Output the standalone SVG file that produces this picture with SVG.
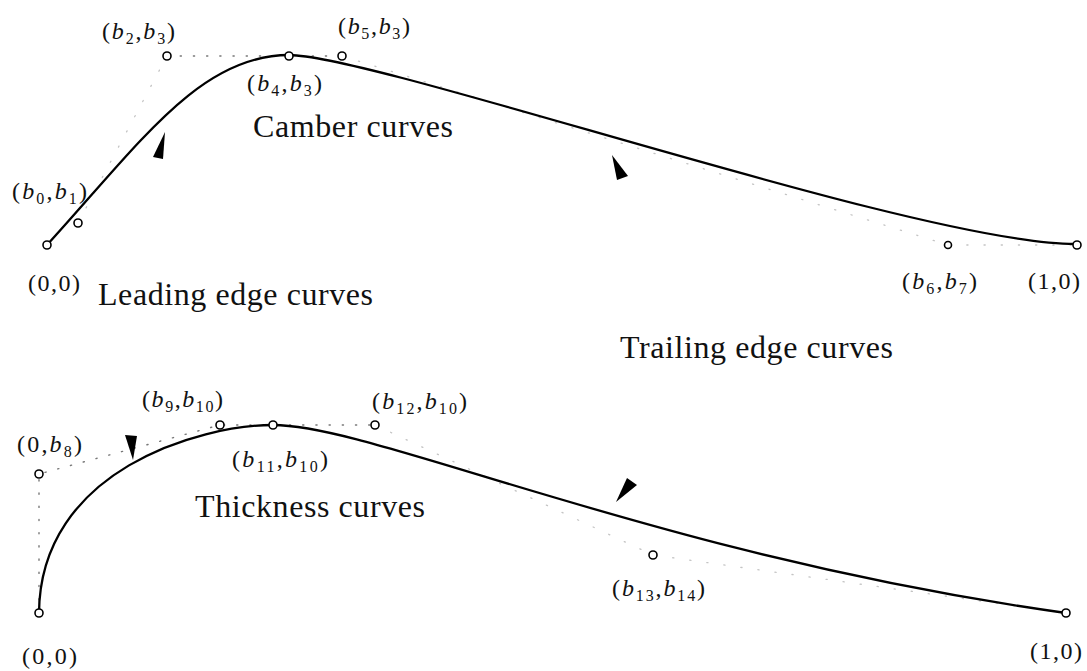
<svg xmlns="http://www.w3.org/2000/svg" width="1087" height="671" viewBox="0 0 1087 671">
<style>
text{font-family:"Liberation Serif","Times New Roman",serif;fill:#111}
.lbl{font-size:24px}
.cap{font-size:32px}
.i{font-style:italic}
.s{font-size:16px}
.curve{fill:none;stroke:#000;stroke-width:2.3;stroke-linecap:round}
.ctrl{fill:none;stroke:#777;stroke-width:1.4;stroke-dasharray:1.2 12;stroke-linecap:round}
.faint{fill:none;stroke:#c4c4c4;stroke-width:1.3;stroke-dasharray:1.2 16;stroke-linecap:round}
.pt{fill:#fff;stroke:#000;stroke-width:1.6}
.arr{fill:#000}
</style>
<rect width="1087" height="671" fill="#fff"/>
<g id="connectors">
  <path class="faint" d="M78,223 L167,56"/>
  <path class="ctrl" d="M167,56 L342,56"/>
  <path class="faint" d="M342,56 L948,245 L1077,245"/>
  <path class="curve" d="M47,245 C140,143 200,55 289,55 C380,56 920,244 1075,244"/>
  <path class="ctrl" d="M39,613 L39,474 L220,425 L375,425"/>
  <path class="faint" d="M375,425 L653,555 L1066,613"/>
  <path class="curve" d="M39,613 C40,470 200,425 273,425 C376,425 653,555 1066,613"/>
</g>
<g id="arrowheads">
  <polygon class="arr" points="165,132 153,157 163,159"/>
  <polygon class="arr" points="612,155 617,180 628,176"/>
  <polygon class="arr" points="125,435 137,436 133,460"/>
  <polygon class="arr" points="627,478 637,485 616,502"/>
</g>
<g id="camber-start"><circle class="pt" cx="47" cy="245" r="4"/><text class="lbl" x="28" y="291" textLength="52" lengthAdjust="spacing">(0,0)</text></g>
<g id="camber-b0b1"><circle class="pt" cx="78" cy="223" r="4"/><text class="lbl" x="12" y="199" textLength="75" lengthAdjust="spacing">(<tspan class="i">b</tspan><tspan class="s" dy="5">0</tspan><tspan dy="-5">,</tspan><tspan class="i">b</tspan><tspan class="s" dy="5">1</tspan><tspan dy="-5">)</tspan></text></g>
<g id="camber-b2b3"><circle class="pt" cx="167" cy="56" r="4"/><text class="lbl" x="102" y="39" textLength="73" lengthAdjust="spacing">(<tspan class="i">b</tspan><tspan class="s" dy="5">2</tspan><tspan dy="-5">,</tspan><tspan class="i">b</tspan><tspan class="s" dy="5">3</tspan><tspan dy="-5">)</tspan></text></g>
<g id="camber-b4b3"><circle class="pt" cx="289" cy="56" r="4"/><text class="lbl" x="247" y="91" textLength="75" lengthAdjust="spacing">(<tspan class="i">b</tspan><tspan class="s" dy="5">4</tspan><tspan dy="-5">,</tspan><tspan class="i">b</tspan><tspan class="s" dy="5">3</tspan><tspan dy="-5">)</tspan></text></g>
<g id="camber-b5b3"><circle class="pt" cx="342" cy="56" r="4"/><text class="lbl" x="338" y="34" textLength="72" lengthAdjust="spacing">(<tspan class="i">b</tspan><tspan class="s" dy="5">5</tspan><tspan dy="-5">,</tspan><tspan class="i">b</tspan><tspan class="s" dy="5">3</tspan><tspan dy="-5">)</tspan></text></g>
<g id="camber-b6b7"><circle class="pt" cx="948" cy="245" r="3.5"/><text class="lbl" x="902" y="289" textLength="75" lengthAdjust="spacing">(<tspan class="i">b</tspan><tspan class="s" dy="5">6</tspan><tspan dy="-5">,</tspan><tspan class="i">b</tspan><tspan class="s" dy="5">7</tspan><tspan dy="-5">)</tspan></text></g>
<g id="camber-end"><circle class="pt" cx="1077" cy="245" r="4"/><text class="lbl" x="1028" y="289" textLength="52" lengthAdjust="spacing">(1,0)</text></g>
<g id="caption-camber"><text class="cap" x="253" y="137" textLength="200" lengthAdjust="spacing">Camber curves</text></g>
<g id="caption-leading"><text class="cap" x="98" y="305" textLength="275" lengthAdjust="spacing">Leading edge curves</text></g>
<g id="caption-trailing"><text class="cap" x="620" y="358" textLength="273" lengthAdjust="spacing">Trailing edge curves</text></g>
<g id="caption-thickness"><text class="cap" x="195" y="517" textLength="230" lengthAdjust="spacing">Thickness curves</text></g>
<g id="thick-start"><circle class="pt" cx="39" cy="613" r="4"/><text class="lbl" x="22" y="664" textLength="55" lengthAdjust="spacing">(0,0)</text></g>
<g id="thick-0b8"><circle class="pt" cx="39" cy="474" r="4"/><text class="lbl" x="17" y="452" textLength="65" lengthAdjust="spacing">(0,<tspan class="i">b</tspan><tspan class="s" dy="5">8</tspan><tspan dy="-5">)</tspan></text></g>
<g id="thick-b9b10"><circle class="pt" cx="220" cy="425" r="4"/><text class="lbl" x="142" y="407" textLength="81" lengthAdjust="spacing">(<tspan class="i">b</tspan><tspan class="s" dy="5">9</tspan><tspan dy="-5">,</tspan><tspan class="i">b</tspan><tspan class="s" dy="5">10</tspan><tspan dy="-5">)</tspan></text></g>
<g id="thick-b11b10"><circle class="pt" cx="273" cy="425" r="4"/><text class="lbl" x="232" y="467" textLength="96" lengthAdjust="spacing">(<tspan class="i">b</tspan><tspan class="s" dy="5">11</tspan><tspan dy="-5">,</tspan><tspan class="i">b</tspan><tspan class="s" dy="5">10</tspan><tspan dy="-5">)</tspan></text></g>
<g id="thick-b12b10"><circle class="pt" cx="375" cy="425" r="4"/><text class="lbl" x="372" y="409" textLength="95" lengthAdjust="spacing">(<tspan class="i">b</tspan><tspan class="s" dy="5">12</tspan><tspan dy="-5">,</tspan><tspan class="i">b</tspan><tspan class="s" dy="5">10</tspan><tspan dy="-5">)</tspan></text></g>
<g id="thick-b13b14"><circle class="pt" cx="653" cy="555" r="4"/><text class="lbl" x="612" y="596" textLength="93" lengthAdjust="spacing">(<tspan class="i">b</tspan><tspan class="s" dy="5">13</tspan><tspan dy="-5">,</tspan><tspan class="i">b</tspan><tspan class="s" dy="5">14</tspan><tspan dy="-5">)</tspan></text></g>
<g id="thick-end"><circle class="pt" cx="1066" cy="613" r="4"/><text class="lbl" x="1030" y="659" textLength="52" lengthAdjust="spacing">(1,0)</text></g>
</svg>
